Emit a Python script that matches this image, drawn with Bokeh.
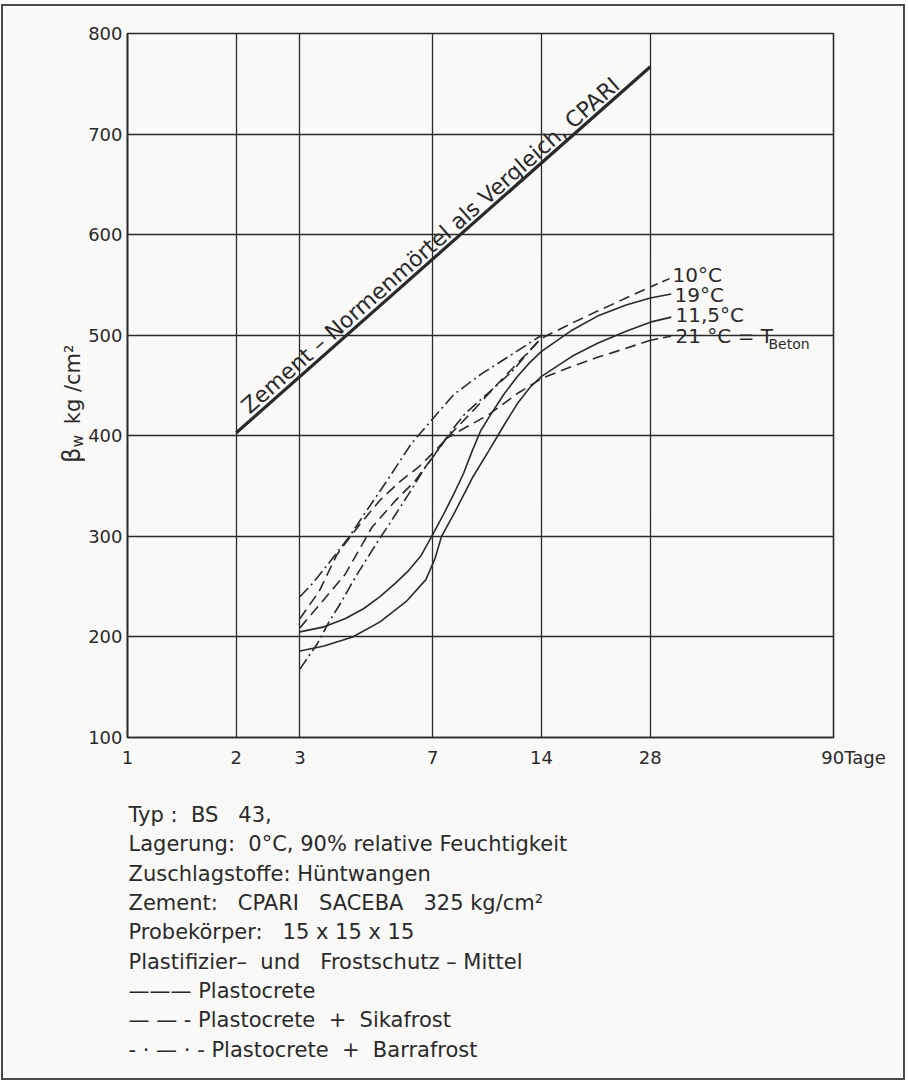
import math
from bokeh.plotting import figure
from bokeh.layouts import column, row
from bokeh.models import Range1d, FixedTicker, NumeralTickFormatter, Label
from bokeh.core.properties import value
from bokeh.embed import file_html
from bokeh.resources import INLINE

# ---------------- data ----------------
x_ticks = [1, 2, 3, 7, 14, 28, 90]
y_ticks = [100, 200, 300, 400, 500, 600, 700, 800]

cpari_days = [2, 28]
cpari_vals = [403, 767]

# Plastocrete (solid)
p19_days = [3, 3.5, 4, 4.5, 5, 5.5, 6, 6.5, 7, 7.5, 8, 8.5, 9, 9.5, 10, 11, 12, 13, 14, 17, 20, 24, 28]
p19_vals = [205, 210, 218, 228, 240, 253, 266, 281, 302, 322, 342, 362, 385, 405, 418, 441, 459, 473, 484, 505, 519, 530, 537]
p115_days = [3, 3.5, 4.2, 5, 5.9, 6.7, 7.1, 7.4, 8, 9, 10, 11, 12, 13, 14, 17, 20, 24, 28]
p115_vals = [186, 191, 200, 215, 235, 257, 278, 300, 322, 358, 385, 410, 432, 448, 459, 479, 492, 504, 513]

# Plastocrete + Sikafrost (dashed)
s10_days = [3, 3.4, 3.8, 4.4, 5, 5.7, 6.4, 7.1, 8, 9, 10, 11, 12, 14, 17, 20, 24, 28]
s10_vals = [218, 246, 282, 312, 336, 355, 369, 385, 405, 424, 442, 458, 472, 497, 512, 524, 537, 548]
s21_days = [3, 4, 4.75, 5.5, 6.25, 7.1, 7.6, 8.6, 10, 12, 14, 17, 20, 24, 28]
s21_vals = [209, 262, 309, 335, 355, 382, 397, 408, 421, 442, 457, 469, 478, 487, 495]

# Plastocrete + Barrafrost (dash-dot)
ba_days = [3, 3.25, 3.6, 4.1, 4.6, 5.2, 6.1, 7, 8, 9.5, 11.6, 14]
ba_vals = [240, 253, 273, 299, 326, 354, 392, 417, 441, 461, 481, 500]
bb_days = [3, 3.35, 3.6, 3.85, 4.35, 4.95, 5.3, 6, 6.65, 7.25, 8, 8.6, 10, 11.6, 14]
bb_vals = [168, 193, 214, 231, 264, 296, 312, 342, 368, 386, 408, 422, 443, 464, 498]

temp_labels = ["10°C", "19°C", "11,5°C", "21 °C = T"]

NB = "\u00a0"
notes = [
    f"Typ :{NB}{NB}BS{NB}{NB}{NB}43,",
    f"Lagerung:{NB}{NB}0°C, 90% relative Feuchtigkeit",
    "Zuschlagstoffe: Hüntwangen",
    f"Zement:{NB}{NB}{NB}CPARI{NB}{NB}{NB}SACEBA{NB}{NB}{NB}325 kg/cm²",
    f"Probekörper:{NB}{NB}{NB}15 x 15 x 15",
    f"Plastifizier–{NB}{NB}und{NB}{NB}{NB}Frostschutz – Mittel",
    "——— Plastocrete",
    f"— — - Plastocrete{NB}{NB}+{NB}{NB}Sikafrost",
    f"- · — · - Plastocrete{NB}{NB}+{NB}{NB}Barrafrost",
]

# ---------------- styling ----------------
INK = "#2a2a2a"
BG = "#f9f9f7"
FONT = "DejaVu Sans"

OX, OY = 3, 6                 # page position of the children (inside the outer box)
INNER_W, INNER_H = 900, 1072
SW = 82                       # y-label strip width
FL, FT, FW, FH = 125, 33, 708, 704      # frame in page px
FB = FT + FH
TOP_H = FB + 33 - OY          # chart part height (page 6 .. 770)
SPLIT = OY + TOP_H            # page y where notes start

CH_W = INNER_W - SW
p = figure(width=CH_W, height=TOP_H, x_axis_type="log",
           x_range=Range1d(1, 90), y_range=Range1d(100, 800),
           min_border_left=FL - OX - SW, min_border_top=FT - OY,
           min_border_right=CH_W - (FL - OX - SW) - FW,
           min_border_bottom=TOP_H - (FT - OY) - FH,
           output_backend="svg", toolbar_location=None,
           background_fill_color=BG, border_fill_color=BG)

p.outline_line_color = INK
p.outline_line_width = 1.6

for ax in (p.xaxis[0], p.yaxis[0]):
    ax.axis_line_color = INK
    ax.axis_line_width = 1.6
    ax.major_tick_in = 0
    ax.major_tick_out = 0
    ax.minor_tick_in = 0
    ax.minor_tick_out = 0
    ax.minor_tick_line_color = None
    ax.major_tick_line_color = None
    ax.major_label_text_font = FONT
    ax.major_label_text_font_size = "18px"
    ax.major_label_text_color = INK
    ax.formatter = NumeralTickFormatter(format="0")

p.xaxis.ticker = FixedTicker(ticks=x_ticks)
p.yaxis.ticker = FixedTicker(ticks=y_ticks)
p.xaxis.major_label_standoff = 9
p.yaxis.major_label_standoff = 5
p.xaxis.major_label_overrides = {90: NB * 7 + "90Tage"}

p.xgrid.ticker = FixedTicker(ticks=x_ticks)
p.ygrid.ticker = FixedTicker(ticks=y_ticks)
for g in (p.xgrid[0], p.ygrid[0]):
    g.grid_line_color = INK
    g.grid_line_alpha = 1.0
    g.grid_line_width = 1.3

# reference line
p.line(cpari_days, cpari_vals, line_color=INK, line_width=3.2)

LW = 1.6
DASH = "11 6"
DASHDOT = "12 4 2 4"
p.line(p19_days, p19_vals, line_color=INK, line_width=LW)
p.line(p115_days, p115_vals, line_color=INK, line_width=LW)
p.line(s10_days, s10_vals, line_color=INK, line_width=LW, line_dash=DASH)
p.line(s21_days, s21_vals, line_color=INK, line_width=LW, line_dash=DASH)
p.line(ba_days, ba_vals, line_color=INK, line_width=LW, line_dash=DASHDOT)
p.line(bb_days, bb_vals, line_color=INK, line_width=LW, line_dash=DASHDOT)

# leader lines from the 28-day ends to the temperature labels
lead_day = 32
lead_vals = [557, 541, 518, 499]
ends = [(s10_vals[-1], "8 5"), (p19_vals[-1], "solid"), (p115_vals[-1], "solid"), (s21_vals[-1], "8 5")]
for (v0, dash), v1 in zip(ends, lead_vals):
    p.line([28, lead_day], [v0, v1], line_color=INK, line_width=LW, line_dash=dash)


def lab(text, px, py, size=19, align="left", angle=0.0):
    # px, py: page position of the text's left end / vertical centre
    p.add_layout(Label(x=1, y=100, x_offset=px - FL, y_offset=FB - py,
                       text=text, text_font=FONT, text_font_size=f"{size}px",
                       text_color=INK, text_align=align, text_baseline="middle",
                       angle=angle))


# temperature labels
lab_y = [274, 294.5, 314.5, 335]
lab_x = [670, 672, 673, 673]
for t, lx, ly in zip(temp_labels, lab_x, lab_y):
    lab(t, lx, ly, 20)
lab("Beton", 766, 343.5, 14)

# text along the CPARI line
dx = (math.log10(cpari_days[1]) - math.log10(cpari_days[0])) / math.log10(90) * FW
dy = (cpari_vals[1] - cpari_vals[0]) / 700 * FH
ang = math.atan2(dy, dx)
ux, uy = math.cos(ang), math.sin(ang)
t0, perp = 22, 12
p.add_layout(Label(x=cpari_days[0], y=cpari_vals[0],
                   x_offset=t0 * ux - perp * uy, y_offset=t0 * uy + perp * ux,
                   text="Zement – Normenmörtel als Vergleich, CPARI",
                   text_font=FONT, text_font_size="22px", text_color=INK,
                   text_align="left", text_baseline="middle", angle=ang))

# ---------------- y label strip (page pixel coordinates) ----------------
yl = figure(width=SW, height=TOP_H, x_range=Range1d(OX, OX + SW),
            y_range=Range1d(SPLIT, OY), min_border=0,
            x_axis_location=None, y_axis_location=None,
            output_backend="svg", toolbar_location=None,
            background_fill_color=BG, border_fill_color=BG)
yl.grid.visible = False
yl.outline_line_color = None
yl_text = ["β", "w", "kg /cm²"]
yl_px = [71, 77, 72]
yl_py = [472, 455, 430]
yl_size = ["24px", "15px", "21px"]
for t, px, py, fs in zip(yl_text, yl_px, yl_py, yl_size):
    yl.text(x=[px], y=[py], text=[t], angle=math.pi / 2,
            text_font=value(FONT), text_font_size=fs, text_color=INK,
            text_align="left", text_baseline="middle")

# ---------------- notes (page pixel coordinates) ----------------
NOTES_H = INNER_H - TOP_H
nt = figure(width=INNER_W, height=NOTES_H, x_range=Range1d(OX, OX + INNER_W),
            y_range=Range1d(OY + INNER_H, SPLIT), min_border=0,
            x_axis_location=None, y_axis_location=None,
            output_backend="svg", toolbar_location=None,
            background_fill_color=BG, border_fill_color=BG)
nt.grid.visible = False
nt.outline_line_color = None
note_y = [814.5 + 29.35 * i for i in range(len(notes))]
nt.text(x=[128] * len(notes), y=note_y, text=notes,
        text_font=value(FONT), text_font_size="21px", text_color=INK,
        text_align="left", text_baseline="middle")

layout = column(row(yl, p), nt,
                styles={"margin-left": "1px", "margin-top": "4px",
                        "border": "2px solid #4a4a4a"})

open("out.html", "w").write(file_html(layout, INLINE))
